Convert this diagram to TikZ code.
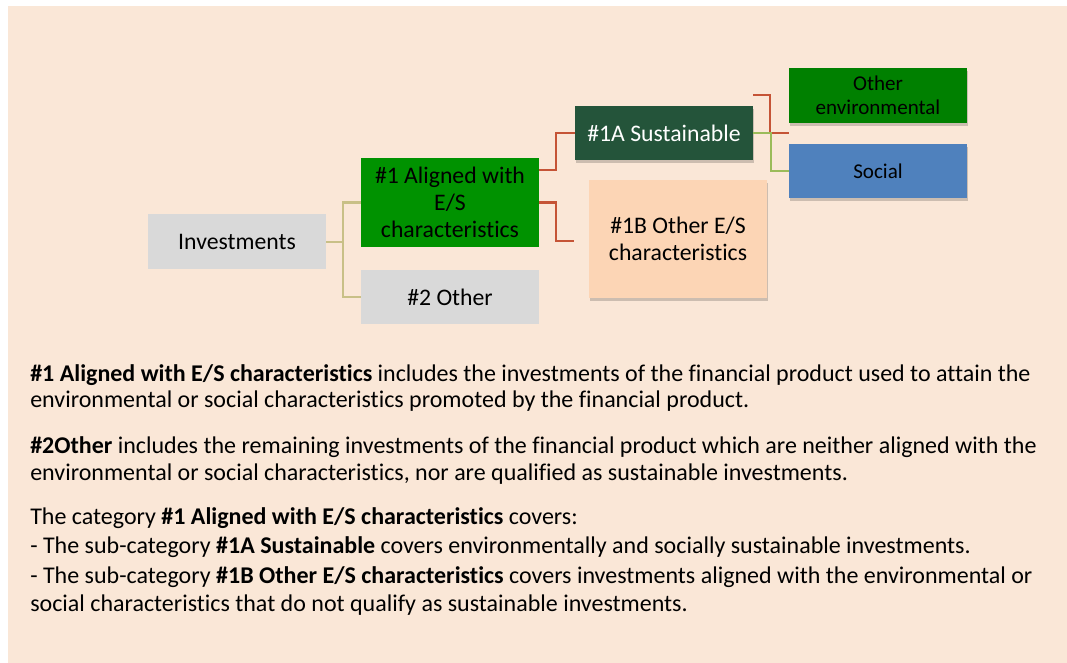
\documentclass[tikz,border=0pt]{standalone}
\usepackage{fontspec}
\setmainfont{Carlito}[Ligatures=NoCommon]
\usetikzlibrary{calc,shadows}

\definecolor{bgpeach}{RGB}{250,231,215}
\definecolor{boxgray}{RGB}{217,217,217}
\definecolor{boxgreen}{RGB}{0,146,0}
\definecolor{boxdark}{RGB}{36,84,58}
\definecolor{boxenv}{RGB}{0,128,0}
\definecolor{boxblue}{RGB}{79,129,189}
\definecolor{boxpeach}{RGB}{252,213,181}
\definecolor{linered}{RGB}{197,84,54}
\definecolor{linetan}{RGB}{200,192,135}
\definecolor{linegreen}{RGB}{155,187,89}

\tikzset{
  catbox/.style={rectangle, inner sep=2pt, align=center, minimum width=133.5pt,
    font=\fontsize{17.8}{20.3}\selectfont},
  subbox/.style={catbox, font=\fontsize{15.8}{18}\selectfont},
  shade/.style={drop shadow={shadow xshift=1pt, shadow yshift=-2pt, opacity=0.18, fill=black}},
  tanline/.style={draw=linetan, line width=1.5pt},
  redline/.style={draw=linered, line width=1.5pt},
  grnline/.style={draw=linegreen, line width=1.5pt},
  bodytext/.style={anchor=base west, inner sep=0pt, font=\fontsize{18}{21}\selectfont}
}

\begin{document}
\begin{tikzpicture}[x=0.75pt,y=0.75pt,yscale=-1,xscale=1]
\useasboundingbox (0,0) rectangle (1067,663);

%Shape: Rectangle [background]
\fill[bgpeach] (8,6) rectangle (1067,663);

%Shape: Rectangle [id:invest]
\node (invest) at (237,241.5) [catbox, fill=boxgray, minimum height=41.25pt] {Investments};
%Shape: Rectangle [id:aligned]
\node (aligned) at (450,202.5) [catbox, fill=boxgreen, minimum height=66.75pt] {\#1 Aligned with\\E/S\\characteristics};
%Shape: Rectangle [id:other]
\node (other) at (450,297) [catbox, fill=boxgray, minimum height=40.5pt] {\#2 Other};
%Shape: Rectangle [id:sustain]
\node (sustain) at (664,133) [catbox, shade, fill=boxdark, text=white, minimum height=40.5pt] {\#1A Sustainable};
%Shape: Rectangle [id:otheres]
\node (otheres) at (678,239) [catbox, shade, fill=boxpeach, minimum height=88.5pt] {\#1B Other E/S\\characteristics};
%Shape: Rectangle [id:otherenv]
\node (otherenv) at (878,95.5) [subbox, shade, fill=boxenv, minimum height=41.25pt] {Other\\environmental};
%Shape: Rectangle [id:social]
\node (social) at (878,171) [subbox, shade, fill=boxblue, minimum height=40.5pt] {Social};

%Connectors
\draw[tanline] (invest.east) -- ++(17,0) |- (aligned.west);
\draw[tanline] (invest.east) -- ++(17,0) |- (other.west);
\draw[redline] ($(aligned.north east)+(0,12)$) -- ++(17,0) |- (sustain.west);
\coordinate (esin) at ($(otheres.west)+(-15,2)$);
\draw[redline] (aligned.east) -- ++(17,0) |- (esin);
\coordinate (envin) at ($(otherenv.south west)!0.5!(social.north west)$);
\draw[redline] ($(sustain.north east)+(0,-11)$) -- ++(17,0) |- (envin);
\draw[grnline] (sustain.east) -- ++(18,0) |- (social.west);

% Text Node
\node (txta) at (30,381) [bodytext] {\textbf{\#1 Aligned with E/S characteristics} includes the investments of the financial product used to attain the};
% Text Node
\node (txtb) at (30,407) [bodytext] {environmental or social characteristics promoted by the financial product.};
% Text Node
\node (txtc) at (30,453) [bodytext] {\textbf{\#2Other} includes the remaining investments of the financial product which are neither aligned with the};
% Text Node
\node (txtd) at (30,480) [bodytext] {environmental or social characteristics, nor are qualified as sustainable investments.};
% Text Node
\node (txte) at (30,524) [bodytext] {The category \textbf{\#1 Aligned with E/S characteristics} covers:};
% Text Node
\node (txtf) at (30,553) [bodytext] {- The sub-category \textbf{\#1A Sustainable} covers environmentally and socially sustainable investments.};
% Text Node
\node (txtg) at (30,583) [bodytext] {- The sub-category \textbf{\#1B Other E/S characteristics} covers investments aligned with the environmental or};
% Text Node
\node (txth) at (30,611) [bodytext] {social characteristics that do not qualify as sustainable investments.};

\end{tikzpicture}
\end{document}
